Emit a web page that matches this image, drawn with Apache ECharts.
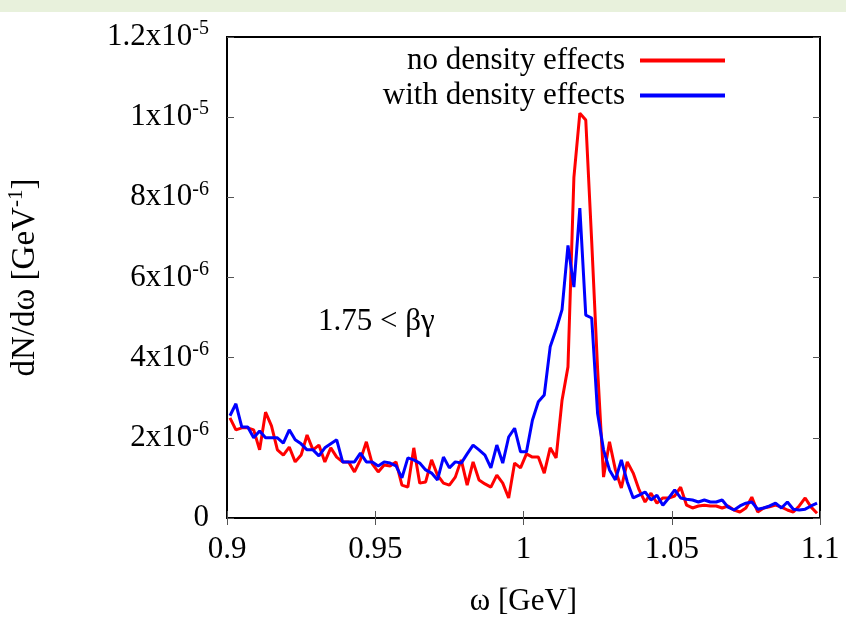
<!DOCTYPE html>
<html>
<head>
<meta charset="utf-8">
<script src="https://cdn.jsdelivr.net/npm/echarts@6/dist/echarts.min.js"></script>
<style>
html,body{margin:0;padding:0;background:#fff;}
#c{width:846px;height:617px;}
</style>
</head>
<body>
<div id="c"></div>
<script>
// omega bin centres [GeV]
const omega = [];
for (let k = 0; k < 100; k++) omega.push(+(0.901 + 0.002 * k).toFixed(3));

// dN/domega in units of 1e-6 GeV^-1
const noDensity = [
2.5,2.2,2.25,2.25,2.2,1.7,2.64,2.3,1.7,1.57,
1.77,1.4,1.57,2.07,1.7,1.82,1.4,1.75,1.52,1.4,
1.4,1.15,1.45,1.9,1.35,1.15,1.32,1.3,1.4,0.82,
0.77,1.75,0.87,0.9,1.45,1.07,0.87,0.82,1.02,1.45,
0.82,1.4,0.95,0.85,0.77,1.07,0.87,0.5,1.37,1.25,
1.6,1.52,1.52,1.12,1.75,1.5,2.94,3.77,8.5,10.1,
9.93,6.9,3.7,1.02,1.9,1.2,0.75,1.4,1.12,0.7,
0.4,0.62,0.37,0.5,0.5,0.55,0.77,0.32,0.25,0.3,
0.32,0.3,0.3,0.25,0.3,0.2,0.15,0.25,0.52,0.15,
0.25,0.28,0.32,0.27,0.2,0.15,0.3,0.5,0.27,0.12];

const withDensity = [
2.55,2.85,2.27,2.27,2.0,2.17,2.0,2.0,2.0,1.87,
2.2,1.95,1.85,1.7,1.7,1.55,1.75,1.85,1.95,1.4,
1.4,1.4,1.62,1.4,1.4,1.3,1.4,1.37,1.3,1.0,
1.5,1.45,1.37,1.2,1.12,0.95,1.52,1.25,1.4,1.37,
1.6,1.82,1.7,1.57,1.25,1.82,1.37,2.02,2.24,1.65,
1.65,2.44,2.9,3.07,4.27,4.7,5.2,6.8,5.76,7.73,
5.06,4.99,2.6,1.7,1.2,0.95,1.45,0.9,0.5,0.57,
0.65,0.45,0.57,0.32,0.5,0.7,0.5,0.47,0.45,0.4,
0.45,0.4,0.4,0.45,0.27,0.2,0.3,0.37,0.4,0.22,
0.25,0.3,0.37,0.25,0.4,0.22,0.2,0.22,0.3,0.37];

const xTickLabels = ['0.9','0.95','1','1.05','1.1'];
// [mantissa, exponent] for each y tick 0,2,4,...,12 (x1e-6)
const yTickLabels = [['0',''],['2x10','-6'],['4x10','-6'],['6x10','-6'],['8x10','-6'],['1x10','-5'],['1.2x10','-5']];

const FONT = 'Liberation Serif';
const chart = echarts.init(document.getElementById('c'));

const yRich = {
  b: {fontFamily: FONT, fontSize: 31, color: '#000'},
  s: {fontFamily: FONT, fontSize: 20, color: '#000', verticalAlign: 'top', padding: [0,0,16,0]}
};

chart.setOption({
  animation: false,
  backgroundColor: '#fff',
  graphic: [
    {type: 'rect', left: 0, top: 0, shape: {width: 846, height: 12}, style: {fill: '#e8f1dc'}, silent: true},
    {type: 'text', left: 318, top: 306, style: {text: '1.75 < βγ', font: '31px "Liberation Serif"', fill: '#000'}}
  ],
  grid: {left: 227, right: 26, top: 37, bottom: 99, outerBoundsMode: 'none', containLabel: false,
    show: true, borderColor: '#000', borderWidth: 2, backgroundColor: 'transparent'},
  legend: {
    right: 116, top: 40, orient: 'vertical', align: 'right',
    itemWidth: 85, itemHeight: 4, itemGap: 4,
    icon: 'rect',
    textStyle: {fontFamily: FONT, fontSize: 31, color: '#000', padding: [0, 10, 0, 0]},
    data: ['no density effects', 'with density effects']
  },
  xAxis: [{
    type: 'value', min: 0.9, max: 1.1, interval: 0.05,
    axisLine: {show: true, lineStyle: {color: '#000', width: 2}},
    axisTick: {show: true, inside: true, length: 7, lineStyle: {color: '#555', width: 1}},
    splitLine: {show: false},
    axisLabel: {margin: 16, fontFamily: FONT, fontSize: 31, color: '#000',
      formatter: v => xTickLabels[Math.round((v - 0.9) / 0.05)]},
    name: 'ω [GeV]', nameLocation: 'middle', nameGap: 68,
    nameTextStyle: {fontFamily: FONT, fontSize: 31, color: '#000'}
  }, {
    type: 'value', position: 'top', min: 0.9, max: 1.1, interval: 0.05,
    axisLine: {show: true, lineStyle: {color: '#000', width: 2}},
    axisTick: {show: true, inside: true, length: 7, lineStyle: {color: '#555', width: 1}},
    axisLabel: {show: false}, splitLine: {show: false}
  }],
  yAxis: [{
    type: 'value', min: 0, max: 12, interval: 2,
    axisLine: {show: true, lineStyle: {color: '#000', width: 2}},
    axisTick: {show: true, inside: true, length: 7, lineStyle: {color: '#555', width: 1}},
    splitLine: {show: false},
    axisLabel: {margin: 18, rich: yRich,
      formatter: v => { const t = yTickLabels[Math.round(v / 2)]; return t[1] ? '{b|' + t[0] + '}{s|' + t[1] + '}' : '{b|' + t[0] + '}'; }},
    name: '{b|dN/dω [GeV}{s|-1}{b|]}', nameLocation: 'middle', nameGap: 183,
    nameTextStyle: {rich: {
      b: {fontFamily: FONT, fontSize: 33, color: '#000'},
      s: {fontFamily: FONT, fontSize: 21, color: '#000', verticalAlign: 'top', padding: [0,0,17,0]}
    }}
  }, {
    type: 'value', position: 'right', min: 0, max: 12, interval: 2,
    axisLine: {show: true, lineStyle: {color: '#000', width: 2}},
    axisTick: {show: true, inside: true, length: 7, lineStyle: {color: '#555', width: 1}},
    axisLabel: {show: false}, splitLine: {show: false}
  }],
  series: [{
    name: 'no density effects', type: 'line', showSymbol: false, symbol: 'none',
    lineStyle: {color: '#ff0000', width: 3}, itemStyle: {color: '#ff0000'},
    data: omega.map((x, i) => [x, noDensity[i]])
  }, {
    name: 'with density effects', type: 'line', showSymbol: false, symbol: 'none',
    lineStyle: {color: '#0000ff', width: 3}, itemStyle: {color: '#0000ff'},
    data: omega.map((x, i) => [x, withDensity[i]])
  }]
});
</script>
</body>
</html>
